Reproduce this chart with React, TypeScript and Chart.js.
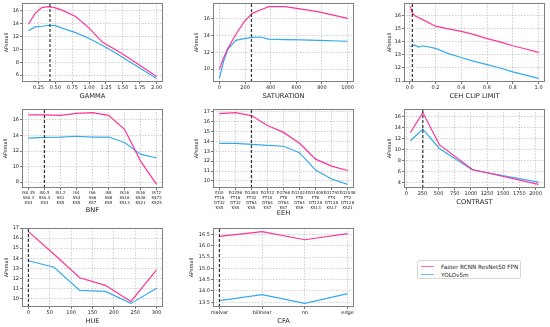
import React, { useEffect, useRef } from "react";
import { Chart, registerables } from "chart.js";
Chart.register(...registerables);

const PINK = "#ff3399";
const BLUE = "#33aaee";
const SERIES = ["Faster RCNN ResNet50 FPN", "YOLOv5m"];
const Y_TITLE = "APsmall";

// ---------- data ----------
const gammaX = [0.1, 0.2, 0.3, 0.4, 0.5, 0.6, 0.8, 1.0, 1.2, 1.4, 1.6, 1.8, 2.0];
const gammaFaster = [13.9, 15.6, 16.5, 16.65, 16.45, 16.1, 15.1, 13.3, 11.1, 9.9, 8.6, 7.2, 5.8];
const gammaYolo = [12.9, 13.5, 13.6, 13.75, 13.7, 13.3, 12.6, 11.7, 10.6, 9.4, 8.1, 6.8, 5.5];
const gammaXTicks = [0.25, 0.5, 0.75, 1.0, 1.25, 1.5, 1.75, 2.0];
const gammaYTicks = [6, 8, 10, 12, 14, 16];

const satX = [0, 32, 64, 128, 192, 256, 320, 384, 512, 640, 768, 1000];
const satFaster = [10.0, 11.3, 12.4, 14.1, 15.6, 16.6, 17.0, 17.4, 17.4, 17.1, 16.8, 16.0];
const satYolo = [8.9, 10.9, 12.3, 13.4, 13.6, 13.75, 13.8, 13.55, 13.5, 13.45, 13.4, 13.3];
const satXTicks = [0, 200, 400, 600, 800, 1000];
const satYTicks = [10, 12, 14, 16];

const cehX = [0.005, 0.02, 0.04, 0.07, 0.1, 0.2, 0.3, 0.4, 0.5, 0.6, 0.7, 0.8, 0.9, 1.0];
const cehFaster = [16.7, 16.2, 16.0, 15.85, 15.7, 15.2, 15.0, 14.8, 14.55, 14.25, 14.0, 13.7, 13.45, 13.2];
const cehYolo = [13.6, 13.7, 13.75, 13.6, 13.7, 13.5, 13.1, 12.8, 12.5, 12.25, 12.0, 11.7, 11.45, 11.2];
const cehXTicks = [0, 0.2, 0.4, 0.6, 0.8, 1.0];
const cehYTicks = [11, 12, 13, 14, 15, 16];

const bnfLabels = [
  ["IS0.35", "SS0.3", "KS3"], ["IS0.5", "SS0.4", "KS3"], ["IS1.2", "SS1", "KS5"],
  ["IS4", "SS4", "KS5"], ["IS6", "SS6", "KS7"], ["IS8", "SS8", "KS9"],
  ["IS16", "SS16", "KS13"], ["IS36", "SS36", "KS21"], ["IS72", "SS72", "KS25"],
];
const bnfFaster = [16.65, 16.65, 16.6, 16.85, 16.95, 16.6, 14.8, 10.7, 7.7];
const bnfYolo = [13.65, 13.75, 13.8, 13.9, 13.8, 13.8, 13.1, 11.6, 11.1];
const bnfYTicks = [8, 10, 12, 14, 16];

const eehLabels = [
  ["EG0", "FT16", "DT32", "KS5"], ["EG256", "FT16", "DT32", "KS5"], ["EG384", "FT32", "DT64", "KS5"],
  ["EG512", "FT10", "DT64", "KS7"], ["EG768", "FT8", "DT64", "KS7"], ["EG1024", "FT8", "DT64", "KS9"],
  ["EG1408", "FT6", "DT128", "KS13"], ["EG1792", "FT4", "DT128", "KS17"], ["EG2048", "FT2", "DT128", "KS21"],
];
const eehFaster = [16.8, 16.9, 16.6, 15.6, 14.9, 13.8, 12.2, 11.5, 11.05];
const eehYolo = [13.8, 13.8, 13.7, 13.6, 13.5, 12.85, 11.1, 10.2, 9.65];
const eehYTicks = [10, 11, 12, 13, 14, 15, 16, 17];

const contrastX = [64, 256, 512, 1024, 2048];
const contrastFaster = [13.1, 16.7, 10.9, 6.4, 3.7];
const contrastYolo = [11.6, 13.7, 10.2, 6.3, 4.1];
const contrastXTicks = [0, 250, 500, 750, 1000, 1250, 1500, 1750, 2000];
const contrastYTicks = [4, 6, 8, 10, 12, 14, 16];

const hueX = [0, 60, 120, 180, 240, 300];
const hueFaster = [16.65, 14.4, 12.05, 11.3, 9.7, 12.85];
const hueYolo = [13.75, 13.1, 10.8, 10.7, 9.5, 11.0];
const hueXTicks = [0, 50, 100, 150, 200, 250, 300];
const hueYTicks = [10, 11, 12, 13, 14, 15, 16, 17];

const cfaLabels = ["malvar", "bilinear", "nn", "edge"];
const cfaFaster = [16.42, 16.63, 16.27, 16.54];
const cfaYolo = [13.57, 13.84, 13.45, 13.88];
const cfaYTicks = [13.5, 14.0, 14.5, 15.0, 15.5, 16.0, 16.5];

const idx = (n: number) => Array.from({ length: n }, (_, i) => i);

type PanelCfg = {
  title: string;
  xs: number[];
  faster: number[];
  yolo: number[];
  xTicks: number[];
  yTicks: number[];
  xFmt: (v: number) => string | string[];
  yFmt: (v: number) => string;
  dashX: number;
  col: number;
  row: number;
  yTitleX: number;
  xTitleY: number;
  xTickSize: number;
};

const fixed = (d: number) => (v: number) => Number(v).toFixed(d);
const intFmt = (v: number) => String(Math.round(v));

const PANELS: PanelCfg[] = [
  { title: "GAMMA", xs: gammaX, faster: gammaFaster, yolo: gammaYolo, xTicks: gammaXTicks, yTicks: gammaYTicks,
    xFmt: fixed(2), yFmt: intFmt, dashX: 0.42, col: 0, row: 0, yTitleX: 6.7, xTitleY: 96, xTickSize: 5 },
  { title: "SATURATION", xs: satX, faster: satFaster, yolo: satYolo, xTicks: satXTicks, yTicks: satYTicks,
    xFmt: intFmt, yFmt: intFmt, dashX: 250, col: 1, row: 0, yTitleX: 197.3, xTitleY: 95.7, xTickSize: 5 },
  { title: "CEH CLIP LIMIT", xs: cehX, faster: cehFaster, yolo: cehYolo, xTicks: cehXTicks, yTicks: cehYTicks,
    xFmt: fixed(1), yFmt: intFmt, dashX: 0.02, col: 2, row: 0, yTitleX: 390, xTitleY: 95.7, xTickSize: 5 },
  { title: "BNF", xs: idx(bnfLabels.length), faster: bnfFaster, yolo: bnfYolo, xTicks: idx(bnfLabels.length), yTicks: bnfYTicks,
    xFmt: (v) => bnfLabels[Math.round(v)], yFmt: intFmt, dashX: 1, col: 0, row: 1, yTitleX: 6, xTitleY: 210, xTickSize: 4 },
  { title: "EEH", xs: idx(eehLabels.length), faster: eehFaster, yolo: eehYolo, xTicks: idx(eehLabels.length), yTicks: eehYTicks,
    xFmt: (v) => eehLabels[Math.round(v)], yFmt: intFmt, dashX: 2, col: 1, row: 1, yTitleX: 197.3, xTitleY: 213, xTickSize: 4 },
  { title: "CONTRAST", xs: contrastX, faster: contrastFaster, yolo: contrastYolo, xTicks: contrastXTicks, yTicks: contrastYTicks,
    xFmt: intFmt, yFmt: intFmt, dashX: 256, col: 2, row: 1, yTitleX: 390, xTitleY: 202, xTickSize: 5 },
  { title: "HUE", xs: hueX, faster: hueFaster, yolo: hueYolo, xTicks: hueXTicks, yTicks: hueYTicks,
    xFmt: intFmt, yFmt: intFmt, dashX: 0, col: 0, row: 2, yTitleX: 6.7, xTitleY: 321, xTickSize: 5 },
  { title: "CFA", xs: idx(cfaLabels.length), faster: cfaFaster, yolo: cfaYolo, xTicks: idx(cfaLabels.length), yTicks: cfaYTicks,
    xFmt: (v) => cfaLabels[Math.round(v)], yFmt: fixed(1), dashX: 0, col: 1, row: 2, yTitleX: 191.7, xTitleY: 321, xTickSize: 5 },
];

// ---------- layout ----------
const COL_L = [22, 213, 404];
const ROW_T = [3, 109, 228];
const PW = 141;
const PH = 79;
const PT = 6;
const PR = 14;
const FONT = "'DejaVu Sans', sans-serif";
const X_TITLE_SIZE = 6.7;
const Y_TITLE_SIZE = 5;

const framePlugin = {
  id: "frame",
  afterDatasetsDraw(chart: any) {
    const { ctx, chartArea } = chart;
    ctx.save();
    ctx.strokeStyle = "#808080";
    ctx.lineWidth = 1;
    ctx.strokeRect(chartArea.left + 0.5, chartArea.top + 0.5, chartArea.right - chartArea.left - 1, chartArea.bottom - chartArea.top - 1);
    ctx.restore();
  },
};

function padRange(vals: number[]) {
  const mn = Math.min(...vals);
  const mx = Math.max(...vals);
  const m = (mx - mn) * 0.05;
  return [mn - m, mx + m];
}

function Panel({ cfg }: { cfg: PanelCfg }) {
  const ref = useRef<HTMLCanvasElement>(null);
  const l = COL_L[cfg.col];
  const t = ROW_T[cfg.row];
  const b = t + PH;
  const YW = Math.round(l - (cfg.yTitleX - 6));
  const XH = Math.round(cfg.xTitleY + 1 + (X_TITLE_SIZE * 1.2) / 2 - b);
  const left = l - YW;
  const top = t - PT;
  const w = YW + PW + PR;
  const h = PT + PH + XH;

  useEffect(() => {
    const [xMin, xMax] = padRange(cfg.xs);
    const [yMin, yMax] = padRange([...cfg.faster, ...cfg.yolo]);
    const gridColor = "rgba(170,170,170,0.7)";
    const chart = new Chart(ref.current as HTMLCanvasElement, {
      type: "line",
      data: {
        datasets: [
          {
            label: "default",
            data: [{ x: cfg.dashX, y: yMin }, { x: cfg.dashX, y: yMax }],
            borderColor: "#333333",
            borderWidth: 1.2,
            borderDash: [3, 2],
            pointRadius: 0,
            order: 0,
          },
          {
            label: SERIES[0],
            data: cfg.xs.map((x, i) => ({ x, y: cfg.faster[i] })),
            borderColor: PINK,
            borderWidth: 1.2,
            pointRadius: 0,
            tension: 0,
            order: 1,
          },
          {
            label: SERIES[1],
            data: cfg.xs.map((x, i) => ({ x, y: cfg.yolo[i] })),
            borderColor: BLUE,
            borderWidth: 1.2,
            pointRadius: 0,
            tension: 0,
            order: 2,
          },
        ],
      },
      options: {
        responsive: false,
        animation: false,
        devicePixelRatio: 1,
        events: [],
        layout: { padding: { left: 0, top: PT, right: PR, bottom: 0 } },
        plugins: { legend: { display: false }, tooltip: { enabled: false } },
        scales: {
          x: {
            type: "linear",
            min: xMin,
            max: xMax,
            afterBuildTicks: (s: any) => {
              s.ticks = cfg.xTicks.map((v) => ({ value: v }));
            },
            afterFit: (s: any) => {
              s.height = XH;
            },
            ticks: {
              autoSkip: false,
              maxRotation: 0,
              minRotation: 0,
              padding: 1,
              color: "#222",
              font: { family: FONT, size: cfg.xTickSize, lineHeight: 1.2 },
              callback: (v: any) => cfg.xFmt(Number(v)),
            },
            grid: { color: gridColor, lineWidth: 0.8, tickLength: 2, tickColor: "#555", drawTicks: true },
            border: { display: false, dash: [1.5, 1.5] },
            title: {
              display: true,
              text: cfg.title,
              color: "#222",
              font: { family: FONT, size: X_TITLE_SIZE, lineHeight: 1.2 },
              padding: { top: 0, bottom: 1 },
            },
          },
          y: {
            type: "linear",
            min: yMin,
            max: yMax,
            afterBuildTicks: (s: any) => {
              s.ticks = cfg.yTicks.filter((v) => v >= yMin && v <= yMax).map((v) => ({ value: v }));
            },
            afterFit: (s: any) => {
              s.width = YW;
            },
            ticks: {
              padding: 1,
              color: "#222",
              font: { family: FONT, size: 5 },
              callback: (v: any) => cfg.yFmt(Number(v)),
            },
            grid: { color: gridColor, lineWidth: 0.8, tickLength: 2, tickColor: "#555", drawTicks: true },
            border: { display: false, dash: [1.5, 1.5] },
            title: {
              display: true,
              text: Y_TITLE,
              color: "#222",
              font: { family: FONT, size: Y_TITLE_SIZE, lineHeight: 1.2 },
              padding: { top: 3, bottom: 0 },
            },
          },
        },
      },
      plugins: [framePlugin],
    } as any);
    return () => chart.destroy();
  }, []);

  return (
    <canvas
      ref={ref}
      width={w}
      height={h}
      style={{ position: "absolute", left, top, width: w, height: h }}
    />
  );
}

function Legend() {
  const row = (color: string, text: string, y: number) => (
    <div style={{ position: "absolute", left: 0, top: y, height: 8, width: "100%" }}>
      <div style={{ position: "absolute", left: 3, top: 3.5, width: 13, height: 1.3, background: color, opacity: 0.75 }} />
      <div style={{ position: "absolute", left: 23, top: 0, fontSize: 5.7, lineHeight: "8px", color: "#222", whiteSpace: "nowrap", fontFamily: FONT }}>
        {text}
      </div>
    </div>
  );
  return (
    <div
      style={{
        position: "absolute",
        left: 417,
        top: 260,
        width: 104,
        height: 19,
        border: "1px solid #d8d8d8",
        borderRadius: 2,
        background: "#fff",
        boxSizing: "border-box",
      }}
    >
      {row(PINK, SERIES[0], 1.5)}
      {row(BLUE, SERIES[1], 9.5)}
    </div>
  );
}

export default function App() {
  return (
    <div style={{ position: "absolute", left: 0, top: 0, width: 550, height: 327, background: "#fff", overflow: "hidden" }}>
      {PANELS.map((p) => (
        <Panel key={p.title} cfg={p} />
      ))}
      <Legend />
    </div>
  );
}
